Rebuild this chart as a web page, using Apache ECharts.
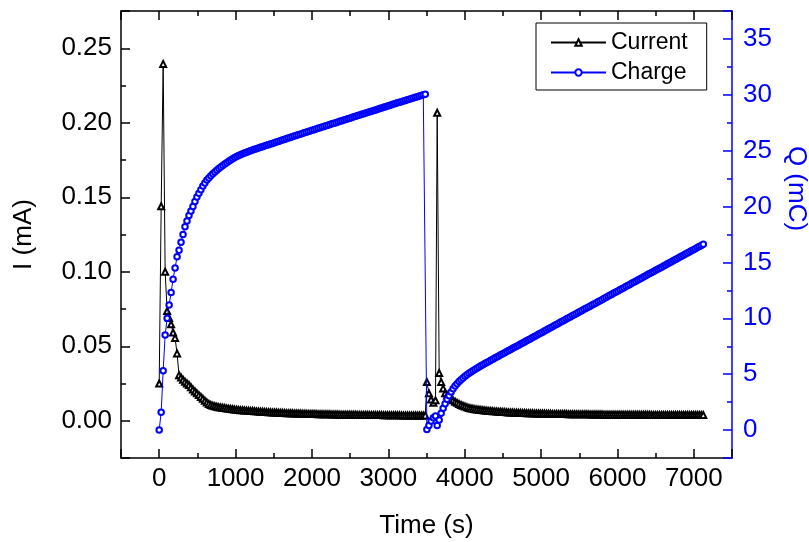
<!DOCTYPE html>
<html>
<head>
<meta charset="utf-8">
<script src="https://cdn.jsdelivr.net/npm/echarts@6/dist/echarts.min.js"></script>
<style>
html,body{margin:0;padding:0;background:#fff;}
#chart{width:809px;height:542px;}
</style>
</head>
<body>
<div id="chart"></div>
<script>
// ---- Data ----
// Phase 1: first polarisation step
const time1 = [0,26,52,78,104,130,156,182,208,234,260,286,312,338,364,390,416,442,468,494,520,546,572,598,624,650,676,702,728,754,780,806,832,858,884,910,936,962,988,1014,1040,1066,1092,1118,1144,1170,1196,1222,1248,1274,1300,1326,1352,1378,1404,1430,1456,1482,1508,1534,1560,1586,1612,1638,1664,1690,1716,1742,1768,1794,1820,1846,1872,1898,1924,1950,1976,2002,2028,2054,2080,2106,2132,2158,2184,2210,2236,2262,2288,2314,2340,2366,2392,2418,2444,2470,2496,2522,2548,2574,2600,2626,2652,2678,2704,2730,2756,2782,2808,2834,2860,2886,2912,2938,2964,2990,3016,3042,3068,3094,3120,3146,3172,3198,3224,3250,3276,3302,3328,3354,3380,3406,3432,3458,3484];
const current1 = [0.025,0.144,0.2395,0.100,0.0737,0.069,0.0648,0.0592,0.0556,0.0452,
0.0306,0.0290,0.0275,0.0262,0.0250,0.0240,0.0225,0.0210,0.0196,0.0184,
0.0172,0.0160,0.0147,0.0134,0.0122,0.0113,0.0106,0.0101,0.0097,0.0094,
0.0091,0.0089,0.0087,0.0085,0.0083,0.0081,0.0079,0.0077,0.0075,0.0074,
0.0073,0.0071,0.0070,0.0069,0.0068,0.0067,0.0066,0.0065,0.0064,0.0063,
0.0062,0.0061,0.0060,0.0059,0.0058,0.0057,0.0057,0.0056,0.0055,0.0055,
0.0054,0.0053,0.0053,0.0052,0.0051,0.0051,0.0050,0.0050,0.0049,0.0049,
0.0048,0.0048,0.0047,0.0047,0.0047,0.0046,0.0046,0.0045,0.0045,0.0045,
0.0044,0.0044,0.0044,0.0043,0.0043,0.0043,0.0043,0.0042,0.0042,0.0042,
0.0042,0.0041,0.0041,0.0041,0.0041,0.0040,0.0040,0.0040,0.0040,0.0040,
0.0039,0.0039,0.0039,0.0039,0.0039,0.0039,0.0038,0.0038,0.0038,0.0038,
0.0038,0.0038,0.0038,0.0037,0.0037,0.0037,0.0037,0.0037,0.0037,0.0037,
0.0037,0.0037,0.0036,0.0036,0.0036,0.0036,0.0036,0.0036,0.0036,0.0036,
0.0036,0.0036,0.0036,0.0036,0.0036];
const charge1 = [0,1.6,5.3,8.5,10.0,11.2,12.3,13.5,14.5,15.5,
16.1,16.8,17.5,18.2,18.7,19.2,19.6,20.0,20.45,20.85,
21.2,21.5,21.85,22.1,22.38,22.55,22.75,22.93,23.1,23.25,
23.4,23.55,23.68,23.8,23.93,24.05,24.17,24.28,24.38,24.47,
24.56,24.645,24.725,24.8,24.87,24.936,25.0,25.06,25.12,25.18,
25.24,25.3,25.36,25.42,25.48,25.53,25.59,25.65,25.71,25.77,
25.83,25.89,25.95,26.01,26.07,26.13,26.19,26.25,26.31,26.37,
26.42,26.48,26.54,26.6,26.65,26.71,26.77,26.83,26.88,26.94,
27.0,27.05,27.11,27.17,27.23,27.28,27.34,27.4,27.45,27.51,
27.57,27.63,27.68,27.74,27.8,27.85,27.91,27.97,28.03,28.08,
28.14,28.2,28.25,28.31,28.37,28.42,28.48,28.54,28.6,28.65,
28.71,28.77,28.82,28.88,28.94,29.0,29.05,29.11,29.17,29.22,
29.28,29.34,29.39,29.45,29.5,29.56,29.61,29.67,29.72,29.78,
29.83,29.89,29.94,30.0,30.05];

// Phase 2: second step
const time2 = [3505,3532,3560,3590,3618,3640,3666,3692,3718,3744,3770,3796,3822,3848,3874,3900,3926,3952,3978,4004,4030,4056,4082,4108,4134,4160,4186,4212,4238,4264,4290,4316,4342,4368,4394,4420,4446,4472,4498,4524,4550,4576,4602,4628,4654,4680,4706,4732,4758,4784,4810,4836,4862,4888,4914,4940,4966,4992,5018,5044,5070,5096,5122,5148,5174,5200,5226,5252,5278,5304,5330,5356,5382,5408,5434,5460,5486,5512,5538,5564,5590,5616,5642,5668,5694,5720,5746,5772,5798,5824,5850,5876,5902,5928,5954,5980,6006,6032,6058,6084,6110,6136,6162,6188,6214,6240,6266,6292,6318,6344,6370,6396,6422,6448,6474,6500,6526,6552,6578,6604,6630,6656,6682,6708,6734,6760,6786,6812,6838,6864,6890,6916,6942,6968,6994,7020,7046,7072,7098,7124];
const current2 = [0.026,0.0184,0.0143,0.012,0.0137,
0.2067,0.032,0.026,0.0217,0.0184,0.0170,0.0158,0.0147,0.0137,0.0128,
0.0120,0.0113,0.0106,0.0100,0.0095,0.0090,0.0086,0.0083,0.0080,0.0078,
0.0076,0.0074,0.0072,0.0070,0.0069,0.0067,0.0066,0.0065,0.0064,0.0063,
0.0062,0.0061,0.0060,0.0059,0.0058,0.0057,0.0056,0.0056,0.0055,0.0054,
0.0054,0.0053,0.0053,0.0052,0.0052,0.0051,0.0051,0.0050,0.0050,0.0049,
0.0049,0.0049,0.0048,0.0048,0.0048,0.0047,0.0047,0.0047,0.0046,0.0046,
0.0046,0.0046,0.0045,0.0045,0.0045,0.0045,0.0044,0.0044,0.0044,0.0044,
0.0044,0.0043,0.0043,0.0043,0.0043,0.0043,0.0043,0.0042,0.0042,0.0042,
0.0042,0.0042,0.0042,0.0042,0.0041,0.0041,0.0041,0.0041,0.0041,0.0041,
0.0041,0.0041,0.0041,0.0040,0.0040,0.0040,0.0040,0.0040,0.0040,0.0040,
0.0040,0.0040,0.0040,0.0040,0.0040,0.0040,0.0040,0.0040,0.0039,0.0039,
0.0039,0.0039,0.0039,0.0039,0.0039,0.0039,0.0039,0.0039,0.0039,0.0039,
0.0039,0.0039,0.0039,0.0039,0.0039,0.0039,0.0039,0.0039,0.0039,0.0039,
0.0039,0.0039,0.0039,0.0039,0.0039];
const charge2 = [0.05,0.4,0.8,1.1,1.25,
0.4,0.9,1.5,1.95,2.35,2.75,3.08,3.4,3.7,3.94,
4.15,4.34,4.51,4.665,4.81,4.945,5.073,5.195,5.312,5.425,
5.535,5.642,5.746,5.848,5.948,6.047,6.145,6.24,6.34,6.44,
6.53,6.63,6.73,6.82,6.92,7.02,7.12,7.21,7.31,7.41,
7.5,7.6,7.7,7.79,7.89,7.99,8.09,8.18,8.28,8.38,
8.47,8.57,8.67,8.76,8.86,8.96,9.06,9.15,9.25,9.35,
9.44,9.54,9.64,9.73,9.83,9.93,10.03,10.12,10.22,10.32,
10.41,10.51,10.61,10.7,10.8,10.9,11.0,11.09,11.19,11.29,
11.38,11.48,11.58,11.67,11.77,11.87,11.97,12.06,12.16,12.26,
12.35,12.45,12.55,12.64,12.74,12.84,12.94,13.03,13.13,13.23,
13.32,13.42,13.52,13.61,13.71,13.81,13.91,14.0,14.1,14.2,
14.29,14.39,14.49,14.58,14.68,14.78,14.88,14.97,15.07,15.17,
15.26,15.36,15.46,15.55,15.65,15.75,15.85,15.94,16.04,16.14,
16.23,16.33,16.43,16.52,16.62];

// Axis settings
const xRange = [-500, 7500], xStep = 1000;
const iRange = [-0.025, 0.275], iStep = 0.05;
const qRange = [-2.5, 37.5], qStep = 5;
const seriesNames = ['Current', 'Charge'];
const axisTitles = {x: 'Time (s)', left: 'I (mA)', right: 'Q (mC)'};

// ---- Build ----
const times = time1.concat(time2);
const currents = current1.concat(current2);
const charges = charge1.concat(charge2);
const currentData = times.map((t, i) => [t, currents[i]]);
const chargeData = times.map((t, i) => [t, charges[i]]);

const FONT = 'Liberation Sans';
const BLUE = '#0000ff';
const BLACK = '#000000';

function onStep(v, step) {
  const r = v / step;
  return Math.abs(r - Math.round(r)) < 1e-6;
}

function baseAxis(color) {
  return {
    type: 'value',
    axisLine: {show: true, onZero: false, lineStyle: {color: color, width: 1.5}},
    axisTick: {show: true, inside: true, length: 9, lineStyle: {color: color, width: 1.5}},
    minorTick: {show: true, splitNumber: 2, length: 5, lineStyle: {color: color, width: 1.5}},
    splitLine: {show: false},
    minorSplitLine: {show: false}
  };
}

const xBottom = Object.assign(baseAxis(BLACK), {
  position: 'bottom', min: xRange[0], max: xRange[1], minInterval: xStep, maxInterval: xStep,
  axisLabel: {fontSize: 26, color: BLACK, fontFamily: FONT, margin: 8,
    formatter: v => onStep(v, xStep) ? String(Math.round(v)) : ''},
  name: axisTitles.x, nameLocation: 'middle', nameGap: 55,
  nameTextStyle: {fontSize: 26, color: BLACK, fontFamily: FONT}
});
const xTop = Object.assign(baseAxis(BLACK), {
  position: 'top', min: xRange[0], max: xRange[1], minInterval: xStep, maxInterval: xStep,
  axisLabel: {show: false}
});
const yLeft = Object.assign(baseAxis(BLACK), {
  position: 'left', min: iRange[0], max: iRange[1], minInterval: iStep, maxInterval: iStep,
  axisLabel: {fontSize: 26, color: BLACK, fontFamily: FONT, margin: 9,
    formatter: v => onStep(v, iStep) ? v.toFixed(2) : ''},
  name: axisTitles.left, nameLocation: 'middle', nameGap: 84,
  nameTextStyle: {fontSize: 26, color: BLACK, fontFamily: FONT}
});
const yRight = Object.assign(baseAxis(BLUE), {
  position: 'right', min: qRange[0], max: qRange[1], minInterval: qStep, maxInterval: qStep,
  axisLabel: {fontSize: 26, color: BLUE, fontFamily: FONT, margin: 11,
    formatter: v => onStep(v, qStep) ? String(Math.round(v)) : ''},
  name: axisTitles.right, nameLocation: 'middle', nameGap: 38, nameRotate: -90,
  nameTextStyle: {fontSize: 26, color: BLUE, fontFamily: FONT, padding: [0, 92, 0, 0]}
});

const chart = echarts.init(document.getElementById('chart'), null, {renderer: 'canvas'});
chart.setOption({
  animation: false,
  backgroundColor: '#ffffff',
  textStyle: {fontFamily: FONT},
  grid: {left: 121, top: 11, width: 611, height: 447, containLabel: false, outerBoundsMode: 'none'},
  legend: {
    data: seriesNames,
    orient: 'vertical',
    left: 536, top: 23,
    padding: [8, 19, 6, 14],
    itemWidth: 55, itemHeight: 8, itemGap: 7,
    borderColor: BLACK, borderWidth: 1, backgroundColor: '#ffffff',
    textStyle: {fontSize: 23, color: BLACK, fontFamily: FONT}
  },
  xAxis: [xBottom, xTop],
  yAxis: [yLeft, yRight],
  series: [
    {
      name: seriesNames[0], type: 'line', xAxisIndex: 0, yAxisIndex: 0,
      data: currentData, symbol: 'emptyTriangle', symbolSize: 6, showAllSymbol: true,
      lineStyle: {color: BLACK, width: 1}, itemStyle: {color: BLACK, borderWidth: 1},
      z: 3
    },
    {
      name: seriesNames[1], type: 'line', xAxisIndex: 0, yAxisIndex: 1,
      data: chargeData, symbol: 'emptyCircle', symbolSize: 5.5, showAllSymbol: true,
      lineStyle: {color: BLUE, width: 1}, itemStyle: {color: BLUE, borderWidth: 1},
      z: 4
    }
  ]
});
</script>
</body>
</html>
